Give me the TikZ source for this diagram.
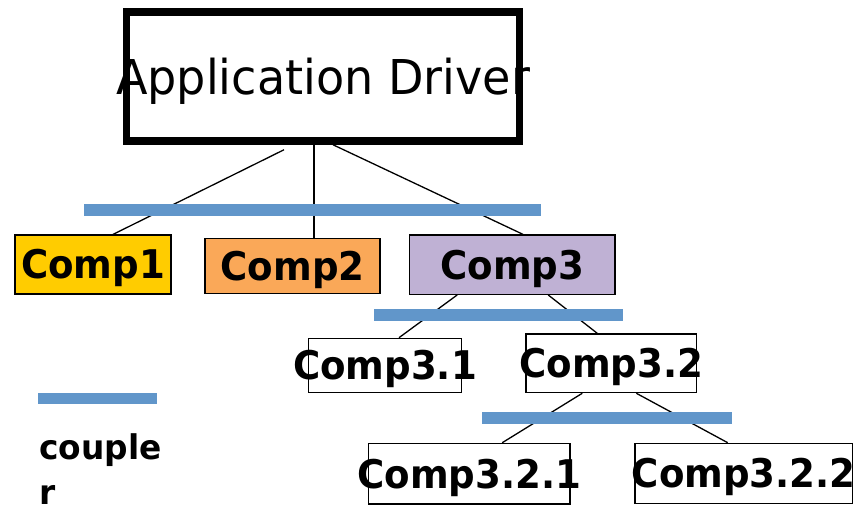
\documentclass[tikz,border=0pt]{standalone}
\usepackage{fontspec}
\setmainfont{DejaVu Sans}
\usetikzlibrary{calc}
\definecolor{cyellow}{RGB}{255,204,0}
\definecolor{corange}{RGB}{250,168,88}
\definecolor{clav}{RGB}{191,177,212}
\definecolor{cblue}{RGB}{97,150,202}
\newcommand\narrowtxt[2]{\makebox[0pt]{\scalebox{#1}[1]{#2}}}
\begin{document}
\begin{tikzpicture}[x=1pt,y=-1pt,
  comp/.style={draw=black, line width=1.2pt, inner sep=0pt, text height=28.8pt, text depth=0pt,
    font=\fontsize{39.5}{42}\selectfont\bfseries},
  link/.style={line width=1.3pt, draw=black},
  coupler/.style={fill=cblue, inner sep=0pt, minimum height=12pt},
]
\useasboundingbox (0,0) rectangle (865,506);

% driver
\node[draw, line width=7.5pt, minimum width=393pt, minimum height=129pt, inner sep=0pt,
  text height=35pt, text depth=0pt, font=\fontsize{48}{52}\selectfont]
  (drv) at (323,76.5) {\narrowtxt{0.96}{Application Driver}};

% components
\node[comp, fill=cyellow, minimum width=156pt, minimum height=59pt] (c1) at (93,264.5) {\narrowtxt{0.94}{Comp1}};
\node[comp, fill=corange, minimum width=175pt, minimum height=55pt] (c2) at (292.5,265.8) {\narrowtxt{0.94}{Comp2}};
\node[comp, fill=clav, minimum width=205.7pt, minimum height=59.3pt] (c3) at (512.2,264.7) {\narrowtxt{0.94}{Comp3}};
\node[comp, fill=white, minimum width=153.4pt, minimum height=54pt] (c31) at (385,365.3) {\narrowtxt{0.94}{Comp3.1}};
\node[comp, fill=white, minimum width=170.7pt, minimum height=58.7pt] (c32) at (611.3,363.3) {\narrowtxt{0.94}{Comp3.2}};
\node[comp, fill=white, minimum width=201.7pt, minimum height=60.7pt] (c321) at (469.2,473.7) {\narrowtxt{0.94}{Comp3.2.1}};
\node[comp, fill=white, minimum width=217.3pt, minimum height=60pt] (c322) at (743.7,473.3) {\narrowtxt{0.94}{Comp3.2.2}};

% connectors
\draw[link] ([xshift=-39pt,yshift=-5pt]drv.south) -- ([xshift=20pt]c1.north);
\draw[link] ([xshift=-9pt]drv.south) -- ([xshift=21.5pt]c2.north);
\draw[link] ([xshift=10pt]drv.south) -- ([xshift=11pt]c3.north);
\draw[link] ([xshift=-55pt]c3.south) -- ([xshift=14pt]c31.north);
\draw[link] ([xshift=36pt]c3.south) -- ([xshift=-14pt]c32.north);
\draw[link] ([xshift=-29pt]c32.south) -- ([xshift=33pt]c321.north);
\draw[link] ([xshift=25pt]c32.south) -- ([xshift=-16pt]c322.north);

% couplers
\node[coupler, minimum width=457pt] (k1) at (312.5,210) {};
\node[coupler, minimum width=249pt] (k2) at (498.5,315) {};
\node[coupler, minimum width=250pt] (k3) at (607,418) {};
\node[coupler, minimum width=119pt, minimum height=11pt] (kl) at (97.5,398.5) {};

% legend
\node[anchor=north west, inner sep=0pt, align=left, font=\fontsize{34}{45}\selectfont\bfseries]
  (leg) at (39,433) {\scalebox{0.965}[1]{couple}\\\scalebox{0.965}[1]{r}};
\end{tikzpicture}
\end{document}
